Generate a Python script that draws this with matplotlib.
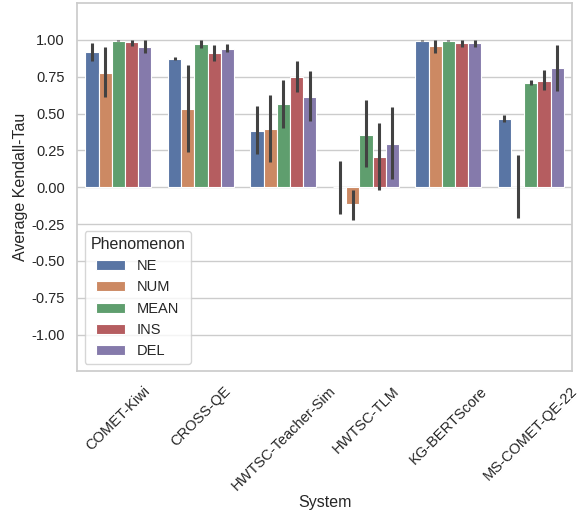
import numpy as np
import matplotlib
matplotlib.use("Agg")
import matplotlib.pyplot as plt
import seaborn as sns

systems = ["COMET-Kiwi", "CROSS-QE", "HWTSC-Teacher-Sim", "HWTSC-TLM", "KG-BERTScore", "MS-COMET-QE-22"]
phenomena = ["NE", "NUM", "MEAN", "INS", "DEL"]

# mean values per phenomenon (one entry per system)
ne_mean   = [0.917, 0.873, 0.382, 0.000, 0.995, 0.464]
num_mean  = [0.778, 0.530, 0.396, -0.115, 0.957, 0.000]
mean_mean = [0.995, 0.975, 0.563, 0.357, 0.995, 0.708]
ins_mean  = [0.984, 0.910, 0.747, 0.206, 0.982, 0.724]
del_mean  = [0.955, 0.941, 0.615, 0.296, 0.982, 0.808]

# confidence interval bounds
ne_lo   = [0.860, 0.864, 0.226, -0.181, 0.990, 0.446]
ne_hi   = [0.980, 0.887, 0.550, 0.176, 1.000, 0.489]
num_lo  = [0.610, 0.238, 0.174, -0.222, 0.914, -0.210]
num_hi  = [0.955, 0.830, 0.629, -0.018, 1.000, 0.217]
mean_lo = [0.990, 0.943, 0.405, 0.138, 0.990, 0.697]
mean_hi = [1.000, 1.000, 0.730, 0.590, 1.000, 0.726]
ins_lo  = [0.960, 0.860, 0.647, -0.018, 0.955, 0.660]
ins_hi  = [1.000, 0.968, 0.855, 0.437, 1.000, 0.796]
del_lo  = [0.910, 0.916, 0.452, 0.056, 0.955, 0.654]
del_hi  = [1.000, 0.975, 0.787, 0.547, 1.000, 0.966]

means = [ne_mean, num_mean, mean_mean, ins_mean, del_mean]
lows = [ne_lo, num_lo, mean_lo, ins_lo, del_lo]
highs = [ne_hi, num_hi, mean_hi, ins_hi, del_hi]

sns.set_theme(style="whitegrid")
plt.rcParams['font.family'] = ['Liberation Sans', 'DejaVu Sans']

fig = plt.figure(figsize=(5.85, 5.11), dpi=100)
ax = fig.add_axes([0.132, 0.273, 0.846, 0.721])

palette = [sns.desaturate(c, 0.75) for c in sns.color_palette("deep", 5)]
x = np.arange(len(systems))
n = len(phenomena)
w = 0.8 / n
for i, ph in enumerate(phenomena):
    pos = x - 0.4 + w * (i + 0.5)
    ax.bar(pos, means[i], width=w, color=palette[i], edgecolor="white", linewidth=0.8, label=ph, zorder=2)
    for p, lo, hi in zip(pos, lows[i], highs[i]):
        ax.plot([p, p], [lo, hi], color=".26", linewidth=2.2, solid_capstyle="butt", zorder=3)

ax.set_xlim(-0.5, len(systems) - 0.5)
ax.set_ylim(-1.25, 1.25)
ax.set_yticks(np.arange(-1.0, 1.01, 0.25))
ax.set_yticklabels([f"{v:.2f}" for v in np.arange(-1.0, 1.01, 0.25)], fontsize=10.5)
ax.set_xticks(x)
ax.set_xticklabels(systems, rotation=45, fontsize=10.5)
ax.grid(axis="x", visible=False)
ax.set_axisbelow(True)
ax.set_ylabel("Average Kendall-Tau", fontsize=11.5, labelpad=2)
ax.set_xlabel("System", fontsize=11.5, labelpad=1)
ax.tick_params(axis="both", pad=3)

leg = ax.legend(title="Phenomenon", loc="lower left", fontsize=10.5, title_fontsize=11.5)

fig.savefig("out.png", dpi=100)
